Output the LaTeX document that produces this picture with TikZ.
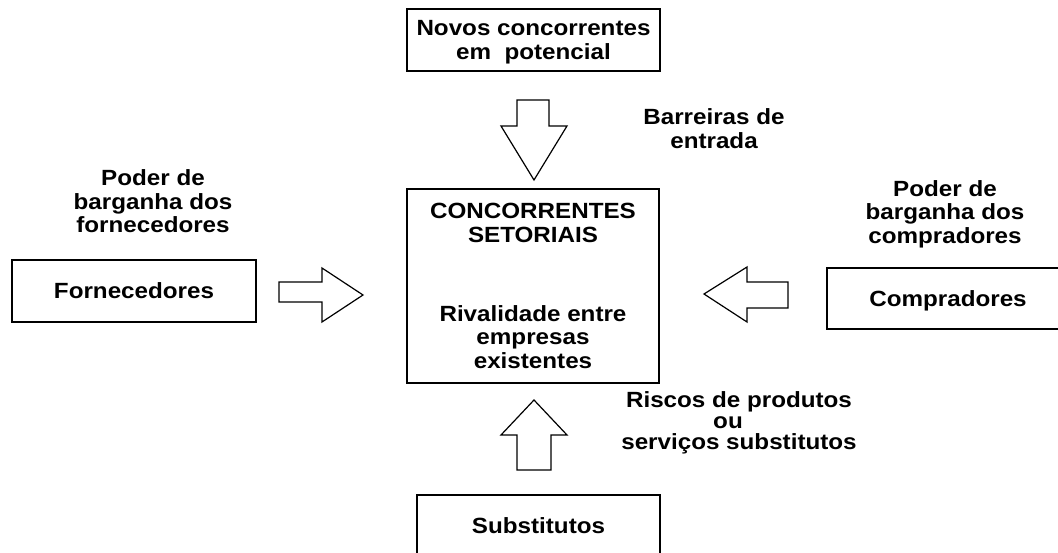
\documentclass[tikz,border=0pt]{standalone}
\usepackage{fontspec}
\setmainfont[FakeStretch=1.1]{Liberation Sans}
\begin{document}
\begin{tikzpicture}[x=1pt,y=-1pt,
  txt/.style={font=\fontsize{22}{23.5}\selectfont\bfseries, align=center, inner sep=0pt},
  box/.style={txt, draw, line width=1.3pt, text depth=0pt},
  lbl/.style={txt, anchor=north},
  blk/.style={draw, line width=1.2pt, line join=miter, fill=white}]
\useasboundingbox (0,0) rectangle (1058,553);
\clip (0,0) rectangle (1058,553);
% boxes
\node[box, minimum width=253pt, minimum height=62pt] (novos) at (533.5,40) {Novos concorrentes\\em\ \ potencial};
\node[box, minimum width=252pt, minimum height=194pt] (setor) at (533,286)
  {CONCORRENTES\\SETORIAIS\\[55.5pt]Rivalidade entre\\empresas\\existentes};
\node[box, text height=15.75pt, minimum width=244pt, minimum height=62pt] (forn) at (134,291) {Fornecedores};
\node[box, text height=15.75pt, minimum width=242pt, minimum height=61pt] (comp) at (948,298.5) {Compradores};
\node[box, text height=15.75pt, minimum width=243pt, minimum height=61pt] (subs) at (538.5,525.5) {Substitutos};
% labels
\node[lbl] (barr) at (714,108.5) {Barreiras de\\entrada};
\node[lbl] (pforn) at (153,169.5) {Poder de\\barganha dos\\fornecedores};
\node[lbl] (pcomp) at (945,180) {Poder de\\barganha dos\\compradores};
\node[lbl, font=\fontsize{22}{21}\selectfont\bfseries] (risc) at (739,391) {Riscos de produtos\\ou\rule{22pt}{0pt}\\servi\c{c}os substitutos};
% block arrows
\draw[blk] (517,100) -- (549,100) -- (549,126) -- (567,126) -- (534,180) -- (501,126) -- (517,126) -- cycle;
\draw[blk] (534,400) -- (567,435) -- (551,435) -- (551,470) -- (517,470) -- (517,435) -- (501,435) -- cycle;
\draw[blk] (279,282) -- (322,282) -- (322,268) -- (363,295) -- (322,322) -- (322,302) -- (279,302) -- cycle;
\draw[blk] (704,294) -- (747,267) -- (747,282) -- (788,282) -- (788,308) -- (747,308) -- (747,322) -- cycle;
\end{tikzpicture}
\end{document}
